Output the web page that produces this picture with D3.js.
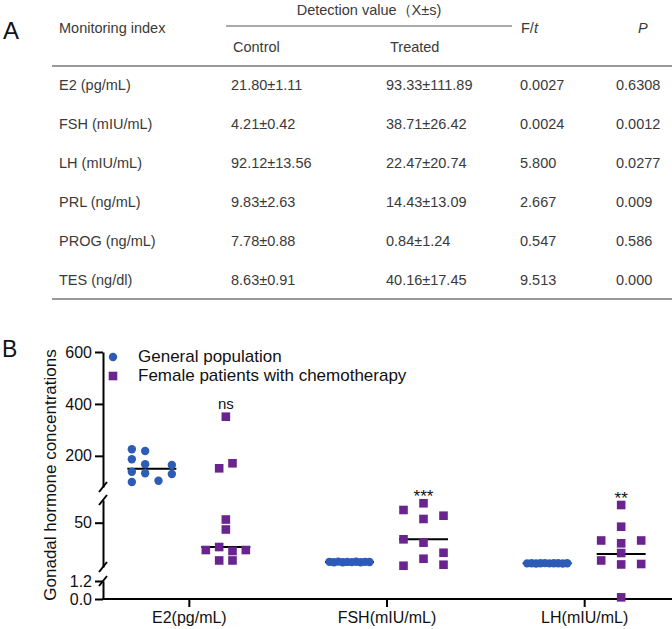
<!DOCTYPE html>
<html><head><meta charset="utf-8">
<script src="https://cdn.jsdelivr.net/npm/d3@7"></script>
<style>body{margin:0;background:#fff}</style>
</head><body>
<svg id="c" width="672" height="629"></svg>
<script>
// ---------- Panel A: table ----------
const tableIndex   = ["E2 (pg/mL)","FSH (mIU/mL)","LH (mIU/mL)","PRL (ng/mL)","PROG (ng/mL)","TES (ng/dl)"];
const tableControl = ["21.80±1.11","4.21±0.42","92.12±13.56","9.83±2.63","7.78±0.88","8.63±0.91"];
const tableTreated = ["93.33±111.89","38.71±26.42","22.47±20.74","14.43±13.09","0.84±1.24","40.16±17.45"];
const tableF       = ["0.0027","0.0024","5.800","2.667","0.547","9.513"];
const tableP       = ["0.6308","0.0012","0.0277","0.009","0.586","0.000"];

// ---------- Panel B: scatter ----------
const categories = ["E2(pg/mL)","FSH(mIU/mL)","LH(mIU/mL)"];
const seriesNames = ["General population","Female patients with chemotherapy"];
// values per category (General population)
const generalE2  = [225.2,218.7,186.7,167.4,164.7,138.9,132.8,130.1,99.3,104.3];
const generalFSH = [6.9,6.5,7.1,6.4,6.8,6.6,7.0,6.5,6.9,6.7];
const generalLH  = [5.2,5.4,5.1,5.3,5.5,5.2,5.4,5.3,5.1,5.3];
// horizontal scatter slot of each point (-1..1)
const generalE2Slot  = [-1,-1/3,-1,-1/3,1,-1,-1/3,1,-1,1/3];
const generalFSHSlot = [-1,-7/9,-5/9,-3/9,-1/9,1/9,3/9,5/9,7/9,1];
const generalLHSlot  = [-1,-7/9,-5/9,-3/9,-1/9,1/9,3/9,5/9,7/9,1];
// Female patients with chemotherapy
const femaleE2  = [350.8,152.0,171.3,53.5,42.5,19.9,23.2,18.8,19.9,8.4,8.4];
const femaleFSH = [64.0,71.4,54.1,57.7,31.7,28.0,16.9,10.3,2.6,3.7];
const femaleLH  = [69.5,45.6,30.4,27.3,30.4,16.6,8.4,4.0,4.5,0.11];
const femaleE2Slot  = [0,-1/3,1/3,0,0,-1,-1/3,1/3,1,-1/3,1/3];
const femaleFSHSlot = [-1,0,0,1,-1,0,1,0,-1,1];
const femaleLHSlot  = [0,0,-1,0,1,0,-1,0,1,0];
// median lines
const generalMedian = [150.5,6.7,5.3];
const femaleMedian  = [23.2,31.7,15.5];
const significance  = ["ns","***","**"];
// axis ticks
const yTicks = [0,1.2,50,200,400,600];

const FONT = "'Liberation Sans', Arial, Helvetica, sans-serif";
const BLUE = "#2d5cb6", PURPLE = "#6a2490";
const svg = d3.select("#c");

// ===== Panel A =====
svg.append("text").attr("x",3).attr("y",39).text("A")
  .style("font-family",FONT).style("font-size","24px").attr("fill","#111");

const tg = svg.append("g").style("font-family",FONT).style("font-size","14.5px").attr("fill","#3a3a3a");
const colX = [59,231,386,520,616];
tg.append("text").attr("x",369).attr("y",15).attr("text-anchor","middle").text("Detection value（X±s)");
tg.append("line").attr("x1",226).attr("x2",512).attr("y1",26).attr("y2",26).attr("stroke","#555").attr("stroke-width",1);
tg.append("text").attr("x",colX[0]).attr("y",33).text("Monitoring index");
const ft = tg.append("text").attr("x",521).attr("y",33);
ft.append("tspan").text("F/");
ft.append("tspan").style("font-style","italic").text("t");
tg.append("text").attr("x",638).attr("y",33).style("font-style","italic").text("P");
tg.append("text").attr("x",233).attr("y",52).text("Control");
tg.append("text").attr("x",390).attr("y",52).text("Treated");
tg.append("line").attr("x1",52).attr("x2",672).attr("y1",66).attr("y2",66).attr("stroke","#777").attr("stroke-width",1.5);
const rowY = d3.scaleBand().domain(tableIndex).range([66,299]);
const cols = [tableIndex,tableControl,tableTreated,tableF,tableP];
tableIndex.forEach((r,i)=>{
  cols.forEach((c,j)=>{
    tg.append("text").attr("x",colX[j]).attr("y",rowY(r)+rowY.bandwidth()/2+5).text(c[i]);
  });
});
tg.append("line").attr("x1",52).attr("x2",672).attr("y1",299).attr("y2",299).attr("stroke","#777").attr("stroke-width",1.5);

// ===== Panel B =====
svg.append("text").attr("x",2).attr("y",357).text("B")
  .style("font-family",FONT).style("font-size","23px").attr("fill","#111");

const AX = 103, AXY = 599;
const segs = [
  {dom:[0,1.2],  rng:[599,581], ticks:[0,1.2]},
  {dom:[1.2,75], rng:[567,500], ticks:[50]},
  {dom:[80,600], rng:[487,352], ticks:[200,400,600]}
].map(s=>Object.assign(s,{sc:d3.scaleLinear().domain(s.dom).range(s.rng)}));
function yv(v){ const s = v<=1.2?segs[0]:(v<=77?segs[1]:segs[2]); return s.sc(v); }

const x = d3.scalePoint().domain(categories).range([90,683]).padding(0.5);
const GOFF = 37, HALF = 20, MHALF = 24.5;

const chart = svg.append("g");
// y axis segments
segs.forEach(s=>{
  const g = chart.append("g").attr("transform",`translate(${AX},0)`)
    .call(d3.axisLeft(s.sc).tickValues(s.ticks.filter(t=>yTicks.includes(t)))
      .tickSize(8).tickSizeOuter(0).tickPadding(3)
      .tickFormat(d=>d<2?d.toFixed(1):String(d)));
  g.selectAll("path,line").attr("stroke","#000").attr("stroke-width",2);
  g.selectAll("text").style("font-family",FONT).style("font-size","16px").attr("fill","#111");
});
// break marks
[segs[0].rng[1], segs[1].rng[0], segs[1].rng[1], segs[2].rng[0]].forEach(yy=>{
  chart.append("line").attr("x1",AX-4).attr("y1",yy+5).attr("x2",AX+4).attr("y2",yy-5)
    .attr("stroke","#000").attr("stroke-width",2);
});
// x axis
chart.append("line").attr("x1",AX-1).attr("x2",672).attr("y1",AXY).attr("y2",AXY).attr("stroke","#000").attr("stroke-width",2);
const xg = chart.append("g").attr("transform",`translate(0,${AXY})`)
  .call(d3.axisBottom(x).tickSize(8).tickPadding(5));
xg.select(".domain").remove();
xg.selectAll("line").attr("stroke","#000").attr("stroke-width",2);
xg.selectAll("text").style("font-family",FONT).style("font-size","16px").attr("fill","#111");

// y label
svg.append("text").attr("transform","translate(56,475) rotate(-90)").attr("text-anchor","middle")
  .style("font-family",FONT).style("font-size","17px").attr("fill","#111")
  .text("Gonadal hormone concentrations");

const generalVals = [generalE2,generalFSH,generalLH];
const generalSlots = [generalE2Slot,generalFSHSlot,generalLHSlot];
const femaleVals = [femaleE2,femaleFSH,femaleLH];
const femaleSlots = [femaleE2Slot,femaleFSHSlot,femaleLHSlot];

// median lines (behind points)
categories.forEach((c,i)=>{
  [[generalMedian[i],-GOFF],[femaleMedian[i],GOFF]].forEach(([m,o])=>{
    chart.append("line").attr("x1",x(c)+o-MHALF).attr("x2",x(c)+o+MHALF)
      .attr("y1",yv(m)).attr("y2",yv(m)).attr("stroke","#000").attr("stroke-width",2);
  });
});
// points
categories.forEach((c,i)=>{
  chart.append("g").selectAll("circle").data(generalVals[i]).join("circle")
    .attr("cx",(d,k)=>x(c)-GOFF+generalSlots[i][k]*HALF).attr("cy",d=>yv(d)).attr("r",4.2).attr("fill",BLUE);
  chart.append("g").selectAll("rect").data(femaleVals[i]).join("rect")
    .attr("x",(d,k)=>x(c)+GOFF+femaleSlots[i][k]*HALF-4.3).attr("y",d=>yv(d)-4.3)
    .attr("width",8.6).attr("height",8.6).attr("fill",PURPLE);
  const top = yv(d3.max(femaleVals[i]));
  const s = significance[i];
  chart.append("text").attr("x",x(c)+GOFF).attr("y",s==="ns"?top-7.5:top-1)
    .attr("text-anchor","middle").style("font-family",FONT)
    .style("font-size",s==="ns"?"15px":"17px").attr("fill","#111").text(s);
});

// legend
const lg = svg.append("g").style("font-family",FONT).style("font-size","17px").attr("fill","#111");
lg.append("circle").attr("cx",113).attr("cy",357).attr("r",4.2).attr("fill",BLUE);
lg.append("rect").attr("x",108.7).attr("y",371.7).attr("width",8.6).attr("height",8.6).attr("fill",PURPLE);
lg.append("text").attr("x",138).attr("y",362).text(seriesNames[0]);
lg.append("text").attr("x",138).attr("y",381).text(seriesNames[1]);
</script>
</body></html>
